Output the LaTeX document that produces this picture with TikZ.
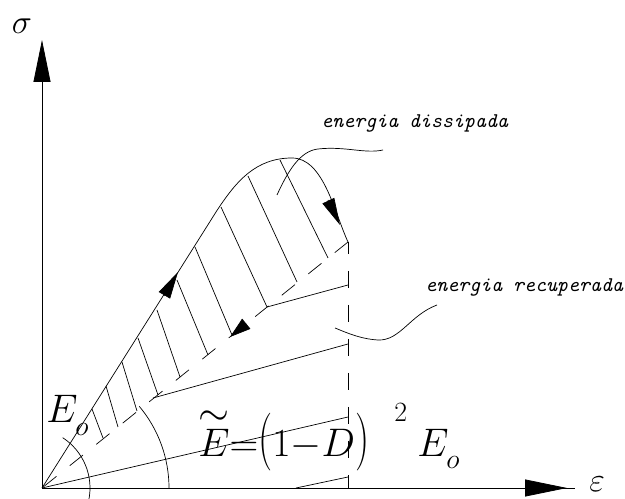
\RequirePackage{fix-cm}
\documentclass[tikz,border=0pt]{standalone}
\usepackage{graphicx}
\usetikzlibrary{arrows.meta}

\begin{document}
\begin{tikzpicture}[
  x=1bp, y=1bp,
  line width=0.7bp,
  axisline/.style={black, line width=0.8bp},
  axisarrow/.style={-{Triangle[length=42bp, width=17bp]}},
  flowarrow/.style={-{Triangle[length=#1, width=13bp]}, solid},
  flowarrow/.default=27bp,
  hatch/.style={black, line width=0.7bp},
  dashline/.style={dash pattern=on 17bp off 17bp},
  secant/.style={black, line width=0.7bp},
  leader/.style={black, line width=0.7bp},
  bigtxt/.style={inner sep=0pt, anchor=base west, font=\fontsize{40}{44}\selectfont},
  subtxt/.style={inner sep=0pt, anchor=base west, font=\fontsize{28}{32}\selectfont},
  axtxt/.style={inner sep=0pt, font=\fontsize{34}{38}\selectfont},
  note/.style={inner sep=0pt, anchor=base west, font=\fontsize{21}{24}\selectfont\ttfamily\itshape},
]
\useasboundingbox (0,0) rectangle (625,499);

% key points of the curve
\coordinate (O) at (42,11);
\coordinate (ytip) at (42,459);
\coordinate (xtip) at (567,11);
\coordinate (xend) at (575,11);
\coordinate (bend) at (216,287);
\coordinate (peak) at (292,341);
\coordinate (A) at (348,257);
\coordinate (Afoot) at (348,11);

% axes
\draw[axisline] (O) -- (xend);
\draw[axisline, axisarrow] (O) -- (xtip);
\draw[axisline, axisarrow] (O) -- (ytip);
\node[axtxt] (sig) at (22,473) {$\sigma$};
\node[axtxt, anchor=base west] (eps) at (589,7) {$\varepsilon$};

% loading, unloading and projection
\draw (O) -- (bend) to[out=57,in=180] (peak) to[out=0,in=115,looseness=0.8] (A);
\draw[dashline] (A) -- (O);
\draw[dashline, dash phase=5bp] (A) -- (Afoot);

% hatching of the dissipated energy
\foreach \xa/\ya/\xb/\yb in {280/339/328/241, 248/323/297/217, 221/292/267/192,
    195/252/232/164, 177/219/208/144, 157/189/180/122, 138/161/158/104,
    122/137/137/88, 106/113/118/72, 92/90/103/61}
  \draw[hatch] (\xa,\ya) -- (\xb,\yb);

% secant (damaged) stiffness lines
\draw[secant] (267,192) -- (348,214);
\draw[secant] (153,101) -- (348,155);
\draw[secant] (O) -- (348,82);
\draw[secant] (296,11) -- (348,22);

% angle arcs
\draw (O) ++(40:127) arc[start angle=40, end angle=0, radius=127];
\draw (30,11) ++(57:60) arc[start angle=57, end angle=-12, radius=60];

% direction of the path
\draw[flowarrow] (164,203) -- (178,227);
\draw[flowarrow=21bp] (246,175) -- (230,162);
\draw[flowarrow] (328,299) -- (340,274);

% labels
\node[bigtxt] (eo) at (46,76) {$E$};
\node[subtxt] (eosub) at (75,63) {$o$};
\node[bigtxt] (law) at (198,42)
  {$\rlap{\raise31bp\hbox{$\sim$}}E{=}\scalebox{1}[1.45]{$($}1{-}D\scalebox{1}[1.45]{$)$}$};
\node[subtxt] (lawsq) at (394,77) {$2$};
\node[bigtxt] (lawE) at (417,42) {$E$};
\node[subtxt] (lawsub) at (446,30) {$o$};
\node[note] (diss) at (321,371) {energia dissipada};
\node[note] (recup) at (425,207) {energia recuperada};

% leaders
\draw[leader] (383,349) .. controls (365,345) and (345,353) .. (318,350)
  .. controls (300,348) and (288,328) .. (277,304);
\draw[leader] (437,194) .. controls (410,184) and (400,158) .. (378,159)
  .. controls (360,160) and (345,167) .. (335,171);

\end{tikzpicture}
\end{document}
